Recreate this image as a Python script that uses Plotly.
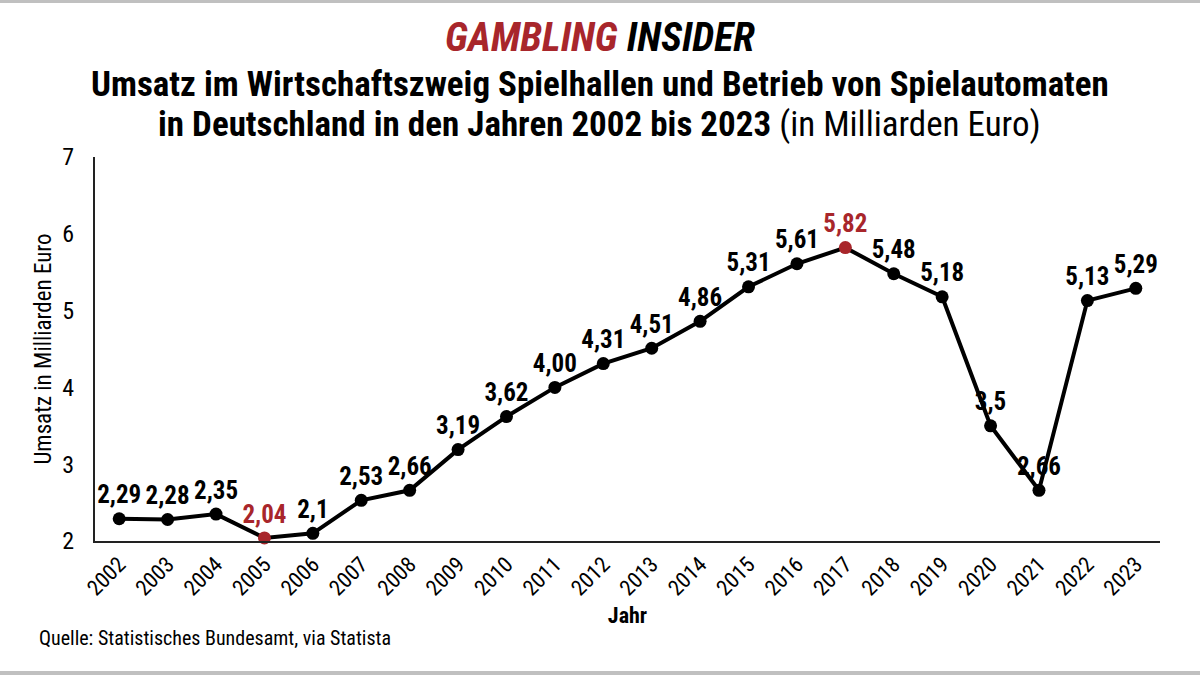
import plotly.graph_objects as go

years = [str(y) for y in range(2002, 2024)]
values = [2.29, 2.28, 2.35, 2.04, 2.1, 2.53, 2.66, 3.19, 3.62, 4.00, 4.31, 4.51,
          4.86, 5.31, 5.61, 5.82, 5.48, 5.18, 3.5, 2.66, 5.13, 5.29]
labels = ["2,29", "2,28", "2,35", "2,04", "2,1", "2,53", "2,66", "3,19", "3,62", "4,00",
          "4,31", "4,51", "4,86", "5,31", "5,61", "5,82", "5,48", "5,18", "3,5", "2,66",
          "5,13", "5,29"]
highlight_years = ["2005", "2017"]

FONT = "Roboto Condensed, Liberation Sans Narrow, DejaVu Sans Condensed, Arial Narrow, sans-serif"
RED = "#a8262b"
BLACK = "#000000"

colors = [RED if y in highlight_years else BLACK for y in years]

T, B, L, R = 157, 134, 95, 40
PH = 675 - T - B
PCX = (L + 1200 - R) / 2  # plot-area centre in px

fig = go.Figure()
fig.add_trace(go.Scatter(
    x=years, y=values, mode="lines+markers+text",
    line=dict(color=BLACK, width=4),
    marker=dict(color=colors, size=13),
    text=labels, textposition="top center",
    textfont=dict(family=FONT, size=25, color=colors, weight="bold"),
    cliponaxis=False, showlegend=False, hoverinfo="skip",
))


def ann(text, xpx, ypx, size, xanchor="center"):
    return dict(text=text, xref="paper", yref="paper", x=0.5, y=1,
                xanchor=xanchor, yanchor="middle", showarrow=False,
                font=dict(size=size, family=FONT, color=BLACK),
                xshift=xpx - PCX, yshift=T - ypx)


fig.update_layout(
    width=1200, height=675,
    margin=dict(l=L, r=R, t=T, b=B),
    paper_bgcolor="white", plot_bgcolor="white",
    font=dict(family=FONT, color=BLACK),
    xaxis=dict(
        type="category", range=[-0.5, 21.5],
        showline=True, linecolor="#222", linewidth=2,
        showgrid=False, zeroline=False, ticks="",
        tickangle=-45, tickfont=dict(size=22, family=FONT),
        title=dict(text="<b>Jahr</b>", font=dict(size=22, family=FONT), standoff=8),
    ),
    yaxis=dict(
        range=[2, 7], dtick=1,
        showline=True, linecolor="#222", linewidth=2,
        showgrid=False, zeroline=False, ticks="",
        tickfont=dict(size=24, family=FONT), ticklabelstandoff=14,
        title=dict(text="Umsatz in Milliarden Euro", font=dict(size=23, family=FONT), standoff=4),
    ),
    annotations=[
        ann("<b><i><span style='color:%s'>GAMBLING</span> INSIDER</i></b>" % RED, 600, 37, 40),
        ann("<b>Umsatz im Wirtschaftszweig Spielhallen und Betrieb von Spielautomaten</b>", 600, 84, 35),
        ann("<b>in Deutschland in den Jahren 2002 bis 2023</b> (in Milliarden Euro)", 599, 124, 35),
        ann("Quelle: Statistisches Bundesamt, via Statista", 37, 638, 20, xanchor="left"),
    ],
)
fig.add_shape(type="rect", xref="paper", yref="paper", x0=-0.2, x1=1.2,
              y0=1 + (T - 3) / PH, y1=1 + T / PH, fillcolor="#c0c0c0", line=dict(width=0))
fig.add_shape(type="rect", xref="paper", yref="paper", x0=-0.2, x1=1.2,
              y0=-B / PH, y1=-(B - 4) / PH, fillcolor="#c0c0c0", line=dict(width=0))

fig.write_html("out.html")
